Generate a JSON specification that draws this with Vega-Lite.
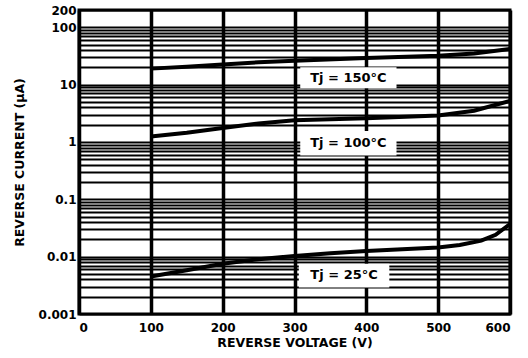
{
  "$schema": "https://vega.github.io/schema/vega-lite/v6.json",
  "width": 431,
  "height": 304,
  "autosize": {"type": "none"},
  "padding": {"left": 79, "top": 10, "right": 18, "bottom": 44},
  "background": "white",
  "config": {
    "view": {"stroke": "black", "strokeWidth": 3},
    "font": "DejaVu Sans"
  },
  "datasets": {
    "curves": [
      {"T": "150", "V": 100, "I": 19},
      {"T": "150", "V": 150, "I": 20.5},
      {"T": "150", "V": 200, "I": 22.5},
      {"T": "150", "V": 250, "I": 24.5},
      {"T": "150", "V": 300, "I": 26},
      {"T": "150", "V": 400, "I": 29},
      {"T": "150", "V": 500, "I": 32},
      {"T": "150", "V": 550, "I": 35},
      {"T": "150", "V": 600, "I": 42},
      {"T": "100", "V": 100, "I": 1.25},
      {"T": "100", "V": 150, "I": 1.45},
      {"T": "100", "V": 200, "I": 1.75},
      {"T": "100", "V": 250, "I": 2.1},
      {"T": "100", "V": 300, "I": 2.4},
      {"T": "100", "V": 400, "I": 2.6},
      {"T": "100", "V": 500, "I": 2.9},
      {"T": "100", "V": 550, "I": 3.5},
      {"T": "100", "V": 600, "I": 5.2},
      {"T": "25", "V": 100, "I": 0.0045},
      {"T": "25", "V": 150, "I": 0.0058},
      {"T": "25", "V": 200, "I": 0.0075},
      {"T": "25", "V": 250, "I": 0.009},
      {"T": "25", "V": 300, "I": 0.0103},
      {"T": "25", "V": 350, "I": 0.0115},
      {"T": "25", "V": 400, "I": 0.0125},
      {"T": "25", "V": 450, "I": 0.0135},
      {"T": "25", "V": 500, "I": 0.0145},
      {"T": "25", "V": 530, "I": 0.016},
      {"T": "25", "V": 560, "I": 0.019},
      {"T": "25", "V": 580, "I": 0.024},
      {"T": "25", "V": 600, "I": 0.037}
    ],
    "labels": [
      {"label": "Tj =  150°C", "v": 375, "i": 13, "v1": 308, "v2": 442, "i1": 20, "i2": 8.6},
      {"label": "Tj =  100°C", "v": 375, "i": 0.95, "v1": 308, "v2": 442, "i1": 1.55, "i2": 0.58},
      {"label": "Tj =  25°C", "v": 369, "i": 0.0047, "v1": 306, "v2": 432, "i1": 0.0075, "i2": 0.0029}
    ]
  },
  "layer": [
    {
      "data": {"name": "curves"},
      "mark": {"type": "line", "color": "black", "strokeWidth": 4},
      "encoding": {
        "x": {
          "field": "V", "type": "quantitative",
          "scale": {"domain": [0, 600], "nice": false},
          "axis": {
            "values": [0, 100, 200, 300, 400, 500, 600],
            "grid": true, "gridColor": "black", "gridWidth": 3.5, "gridOpacity": 1,
            "ticks": false, "domain": false,
            "labelFontSize": 12, "labelFontWeight": "bold", "labelColor": "black", "labelPadding": 8,
            "title": "REVERSE VOLTAGE (V)", "titleFontSize": 12.5, "titleFontWeight": "bold", "titleColor": "black", "titlePadding": 3
          }
        },
        "y": {
          "field": "I", "type": "quantitative",
          "scale": {"type": "log", "domain": [0.001, 200], "nice": false},
          "axis": {
            "values": [0.001, 0.002, 0.003, 0.004, 0.005, 0.006, 0.007, 0.008, 0.009,
                       0.01, 0.02, 0.03, 0.04, 0.05, 0.06, 0.07, 0.08, 0.09,
                       0.1, 0.2, 0.3, 0.4, 0.5, 0.6, 0.7, 0.8, 0.9,
                       1, 2, 3, 4, 5, 6, 7, 8, 9,
                       10, 20, 30, 40, 50, 60, 70, 80, 90, 100, 200],
            "format": "~g",
            "labelExpr": "indexof([200, 100, 10, 1, 0.1, 0.01, 0.001], datum.value) >= 0 ? datum.label : ''",
            "grid": true, "gridColor": "black", "gridWidth": 2.2, "gridOpacity": 1,
            "ticks": false, "domain": false,
            "labelFontSize": 12, "labelFontWeight": "bold", "labelColor": "black", "labelPadding": 3,
            "title": "REVERSE CURRENT (μA)", "titleFontSize": 12.5, "titleFontWeight": "bold", "titleColor": "black", "titlePadding": 12
          }
        },
        "detail": {"field": "T"}
      }
    },
    {
      "data": {"name": "labels"},
      "mark": {"type": "rect", "fill": "white"},
      "encoding": {
        "x": {"field": "v1", "type": "quantitative"},
        "x2": {"field": "v2"},
        "y": {"field": "i1", "type": "quantitative"},
        "y2": {"field": "i2"}
      }
    },
    {
      "data": {"name": "labels"},
      "mark": {"type": "text", "fontSize": 13, "fontWeight": "bold", "color": "black"},
      "encoding": {
        "x": {"field": "v", "type": "quantitative"},
        "y": {"field": "i", "type": "quantitative"},
        "text": {"field": "label"}
      }
    }
  ]
}
